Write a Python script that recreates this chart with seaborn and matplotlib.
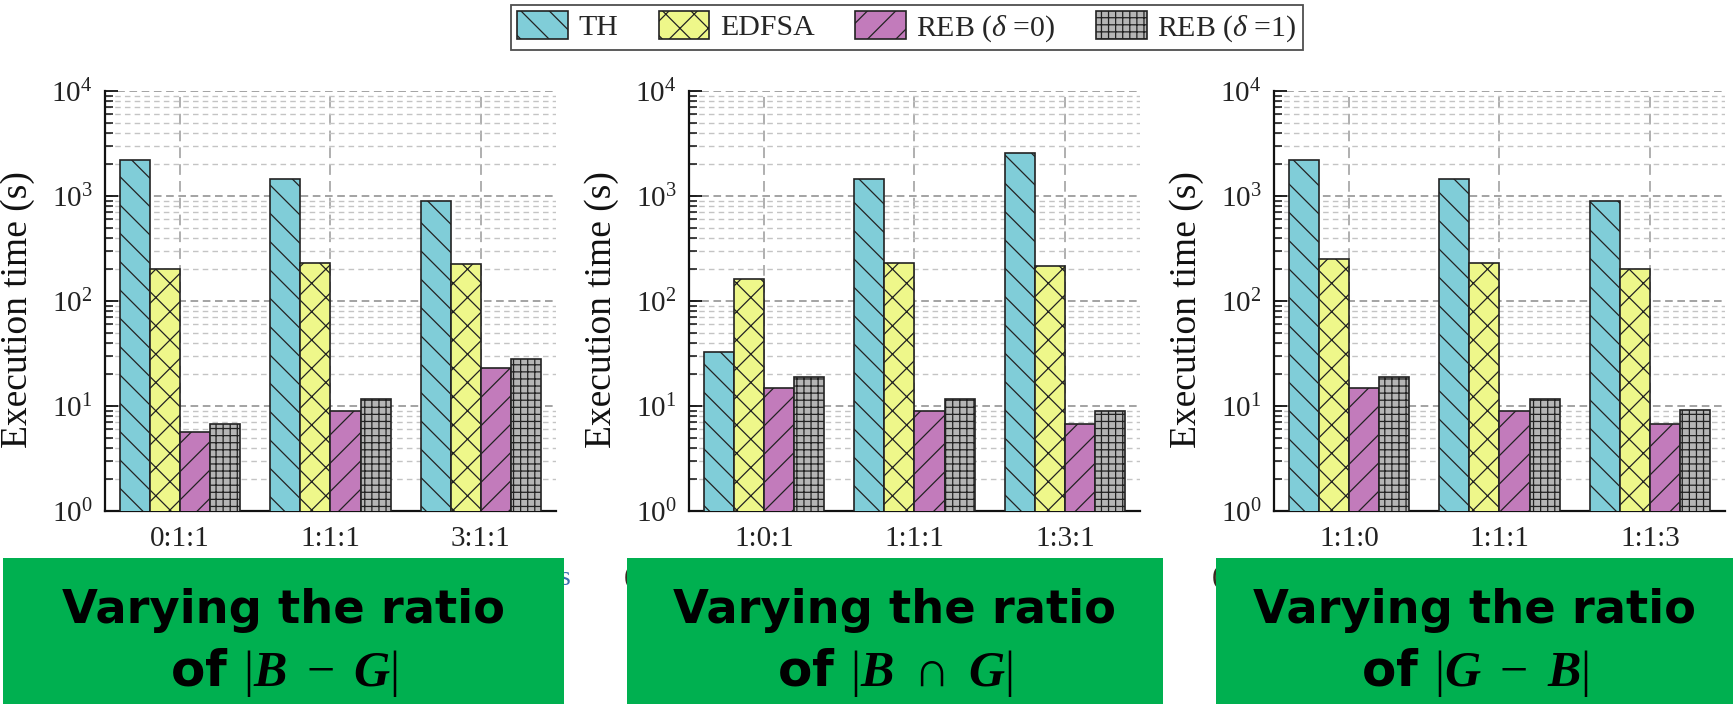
import numpy as np
import pandas as pd
import matplotlib
matplotlib.use("Agg")
import matplotlib.pyplot as plt
import matplotlib.patches as mpatches
import matplotlib.ticker as mticker
import seaborn as sns

# ---------------- data ----------------
methods = ["TH", "EDFSA", "REB0", "REB1"]
method_labels = ["TH", "EDFSA", r"REB ($\mathit{\delta}$ =0)", r"REB ($\mathit{\delta}$ =1)"]

ratios_a = ["0:1:1", "1:1:1", "3:1:1"]
th_a = [2180, 1450, 895]
edfsa_a = [200, 231, 223]
reb0_a = [5.6, 8.9, 22.8]
reb1_a = [6.8, 11.6, 28.1]

ratios_b = ["1:0:1", "1:1:1", "1:3:1"]
th_b = [33, 1450, 2560]
edfsa_b = [163, 231, 215]
reb0_b = [14.7, 8.9, 6.7]
reb1_b = [18.7, 11.6, 9.0]

ratios_c = ["1:1:0", "1:1:1", "1:1:3"]
th_c = [2180, 1450, 895]
edfsa_c = [252, 231, 200]
reb0_c = [14.7, 8.9, 6.7]
reb1_c = [18.7, 11.6, 9.1]

box_titles = [r"of $|\mathbfit{B}\ -\ \mathbfit{G}|$",
              r"of $|\mathbfit{B}\ \cap\ \mathbfit{G}|$",
              r"of $|\mathbfit{G}\ -\ \mathbfit{B}|$"]

# ---------------- style ----------------
colors = ["#80CDD8", "#EEF78A", "#C27BBB", "#B5B5B5"]
hatches = ["\\", "x", "/", "++"]

DPI = 85
K = 100 / DPI  # sizes below are given as if at 100 dpi


def P(v):
    return v * K


sns.set_theme(style="white")
plt.rcParams["font.family"] = ["Liberation Serif", "DejaVu Serif"]
plt.rcParams["mathtext.fontset"] = "custom"
plt.rcParams["mathtext.rm"] = "Liberation Serif"
plt.rcParams["mathtext.it"] = "Liberation Serif:italic"
plt.rcParams["mathtext.bf"] = "Liberation Serif:bold"
plt.rcParams["mathtext.bfit"] = "Liberation Serif:italic:bold"
plt.rcParams["hatch.linewidth"] = P(0.9)
plt.rcParams["hatch.color"] = "#333333"


def make_df(ratios, th, ed, r0, r1):
    rows = []
    for vals, m in zip([th, ed, r0, r1], methods):
        for r, v in zip(ratios, vals):
            rows.append({"ratio": r, "method": m, "time": v})
    return pd.DataFrame(rows), ratios


panels = [make_df(ratios_a, th_a, edfsa_a, reb0_a, reb1_a),
          make_df(ratios_b, th_b, edfsa_b, reb0_b, reb1_b),
          make_df(ratios_c, th_c, edfsa_c, reb0_c, reb1_c)]

W, H = 1734, 704
fig = plt.figure(figsize=(W / DPI, H / DPI), dpi=DPI)

ax_left_px = [105, 689, 1274]
ax_w_px = 451
ax_top_px, ax_bot_px = 91, 511

for (df, order), lx in zip(panels, ax_left_px):
    ax = fig.add_axes([lx / W, 1 - ax_bot_px / H, ax_w_px / W, (ax_bot_px - ax_top_px) / H])
    ax.set_yscale("log")
    sns.barplot(data=df, x="ratio", y="time", hue="method", order=order,
                hue_order=methods, palette=colors, saturation=1,
                edgecolor="#222222", linewidth=P(1.2), legend=False, ax=ax,
                width=0.8, errorbar=None)
    for cont, h in zip(ax.containers, hatches):
        for bar in cont:
            bar.set_hatch(h)
            bar.set_zorder(3)
    ax.set_ylim(1, 1e4)
    ax.set_xlim(-0.5, 2.5)
    ax.yaxis.set_major_locator(mticker.LogLocator(base=10, numticks=10))
    ax.yaxis.set_minor_locator(mticker.LogLocator(base=10, subs=np.arange(2, 10), numticks=50))
    ax.yaxis.set_minor_formatter(mticker.NullFormatter())
    ax.set_axisbelow(True)
    ax.grid(True, axis="y", which="major", linestyle=(0, (5, 3)), color="#8a8a8a", linewidth=P(1.1))
    ax.grid(True, axis="y", which="minor", linestyle=(0, (4, 3)), color="#c4c4c4", linewidth=P(1.0))
    ax.grid(True, axis="x", which="major", linestyle=(0, (7, 4)), color="#9a9a9a", linewidth=P(1.1))
    for s in ["top", "right"]:
        ax.spines[s].set_visible(False)
    for s in ["left", "bottom"]:
        ax.spines[s].set_color("#111111")
        ax.spines[s].set_linewidth(P(1.6))
    ax.tick_params(axis="y", which="major", direction="in", length=P(9), width=P(1.3),
                   color="#111111", labelsize=P(21), pad=P(9), left=True, labelcolor="#222222")
    ax.tick_params(axis="y", which="minor", direction="in", length=P(6), width=P(1.1),
                   color="#111111", left=True)
    ax.tick_params(axis="x", length=0, labelsize=P(21), pad=P(11), labelcolor="#222222")
    for lab in ax.get_xticklabels() + ax.get_yticklabels():
        lab.set_family("Liberation Serif")
    ax.set_xlabel("")
    ax.set_ylabel("Execution time (s)", fontsize=P(27), color="#111111")
    ax.yaxis.set_label_coords(-0.155, 0.48)

# ---------------- legend ----------------
handles = [mpatches.Patch(facecolor=c, edgecolor="#222222", hatch=h, linewidth=P(1.2), label=l)
           for c, h, l in zip(colors, hatches, method_labels)]
leg = fig.legend(handles=handles, ncol=4, loc="center", bbox_to_anchor=(907 / W, 1 - 27.5 / H),
                 frameon=True, fancybox=False, edgecolor="#222222", fontsize=P(21.5),
                 handlelength=1.7, handleheight=1.05, handletextpad=0.35, columnspacing=1.35,
                 borderpad=0.22, borderaxespad=0)
leg.get_frame().set_linewidth(P(1.3))

# ---------------- caption remnants under the boxes ----------------
for xp in [624, 1212]:
    fig.text(xp / W, 1 - 578 / H, "(", fontsize=P(20), color="#3a2a20", ha="left", va="center", zorder=1)
fig.text(560 / W, 1 - 578 / H, "s", fontsize=P(20), color="#3b6fb0", ha="left", va="center", zorder=1)

# ---------------- green boxes ----------------
boxes = [(3, 564), (627, 1163), (1216, 1734)]
box_top = 558
renderer = fig.canvas.get_renderer()
for (x0, x1), t2 in zip(boxes, box_titles):
    rect = mpatches.Rectangle((x0 / W, 0), (x1 - x0) / W, (H - box_top) / H,
                              transform=fig.transFigure, facecolor="#00B050",
                              edgecolor="none", zorder=5)
    fig.patches.append(rect)
    cx = (x0 + x1) / 2 / W
    t1 = fig.text(cx, 1 - 623 / H, "Varying the ratio", ha="center", va="baseline",
                  fontsize=P(40), fontweight="bold", family="DejaVu Sans", color="black", zorder=6)
    w = t1.get_window_extent(renderer).width
    fs = P(40) * 442 / w
    t1.set_fontsize(fs)
    fig.text(cx, 1 - 686 / H, t2, ha="center", va="baseline", fontsize=fs * 1.08,
             fontweight="bold", family="DejaVu Sans", color="black", zorder=6)

fig.savefig("out.png", dpi=DPI)
